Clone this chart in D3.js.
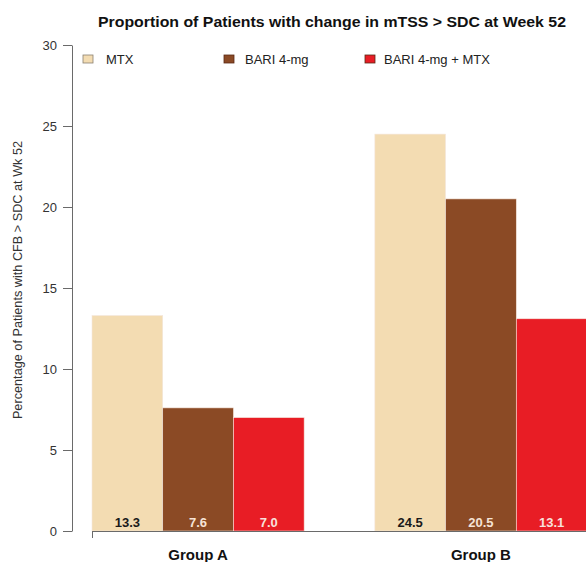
<!DOCTYPE html>
<html>
<head>
<meta charset="utf-8">
<script src="https://cdn.jsdelivr.net/npm/d3@7"></script>
<style>
  html, body { margin: 0; padding: 0; background: #fff; }
  svg { display: block; font-family: "Liberation Sans", Arial, sans-serif; }
</style>
</head>
<body>
<svg id="chart" width="586" height="562"></svg>
<script>
const groups = ["Group A", "Group B"];
const seriesNames = ["MTX", "BARI 4-mg", "BARI 4-mg + MTX"];
const mtxValues = [13.3, 24.5];
const bariValues = [7.6, 20.5];
const comboValues = [7.0, 13.1];
const yTicks = [0, 5, 10, 15, 20, 25, 30];
const title = "Proportion of Patients with change in mTSS > SDC at Week 52";
const yTitle = "Percentage of Patients with CFB > SDC at Wk 52";

const colors = ["#f3dcb2", "#8b4a25", "#e81d25"];
const labelColors = ["#1a1a1a", "#f6e3d6", "#f8e0dc"];
const seriesValues = [mtxValues, bariValues, comboValues];

const svg = d3.select("#chart");

const y = d3.scaleLinear().domain([0, 30]).range([531, 45]);
// bar units: each group 3 bars, 1 bar gap between groups
const x = d3.scaleLinear().domain([0, 7]).range([92, 587]);
const unit = x(1) - x(0);

// title
svg.append("text")
  .attr("x", 332).attr("y", 27)
  .attr("text-anchor", "middle")
  .attr("font-weight", "bold").attr("font-size", 15)
  .attr("fill", "#111")
  .attr("textLength", 468).attr("lengthAdjust", "spacingAndGlyphs")
  .text(title);

// bars
const bars = [];
groups.forEach((g, gi) => {
  seriesNames.forEach((s, si) => {
    bars.push({ group: g, series: si, pos: gi * 4 + si, value: seriesValues[si][gi] });
  });
});

svg.append("g").selectAll("rect").data(bars).join("rect")
  .attr("x", d => x(d.pos))
  .attr("y", d => y(d.value))
  .attr("width", unit)
  .attr("height", d => y(0) - y(d.value))
  .attr("fill", d => colors[d.series])
  .attr("stroke", "#f4e6dc").attr("stroke-width", 0.6);

// value labels
svg.append("g").selectAll("text").data(bars).join("text")
  .attr("x", d => x(d.pos) + unit / 2)
  .attr("y", 527)
  .attr("text-anchor", "middle")
  .attr("font-weight", "bold").attr("font-size", 13)
  .attr("fill", d => labelColors[d.series])
  .text(d => d.value.toFixed(1));

// y axis
const yAxis = svg.append("g")
  .attr("transform", "translate(72,0)")
  .call(d3.axisLeft(y).tickValues(yTicks).tickSize(9).tickSizeOuter(0).tickPadding(6));
yAxis.select(".domain").attr("stroke", "#6a6a6a");
yAxis.selectAll(".tick line").attr("stroke", "#6a6a6a");
yAxis.selectAll(".tick text").attr("font-size", 13).attr("fill", "#333")
  .attr("font-family", "\"Liberation Sans\", Arial, sans-serif");

// y axis title
svg.append("text")
  .attr("transform", "translate(22,280) rotate(-90)")
  .attr("text-anchor", "middle")
  .attr("font-size", 12.7).attr("fill", "#333")
  .text(yTitle);

// x axis
const xAxis = svg.append("g").attr("transform", "translate(0,531)")
  .call(d3.axisBottom(x).tickValues([0, 7]).tickSize(7).tickSizeOuter(0).tickFormat(""));
xAxis.select(".domain").attr("stroke", "#6a6a6a");
xAxis.selectAll(".tick line").attr("stroke", "#6a6a6a");

// group labels
svg.append("g").selectAll("text").data(groups).join("text")
  .attr("x", (d, i) => x(i * 4 + 1.5))
  .attr("y", 560)
  .attr("text-anchor", "middle")
  .attr("font-weight", "bold").attr("font-size", 15)
  .attr("fill", "#111")
  .text(d => d);

// legend
const legendX = [83, 224, 365];
const legend = svg.append("g").selectAll("g").data(seriesNames).join("g")
  .attr("transform", (d, i) => `translate(${legendX[i]},55)`);
legend.append("rect")
  .attr("width", 10).attr("height", 8)
  .attr("fill", (d, i) => colors[i])
  .attr("stroke", (d, i) => i === 0 ? "#8a8070" : "#5a2a14").attr("stroke-width", 0.8);
legend.append("text")
  .attr("x", (d, i) => [23, 21, 19][i]).attr("y", 9)
  .attr("font-size", 13).attr("fill", "#222")
  .text(d => d);
</script>
</body>
</html>
